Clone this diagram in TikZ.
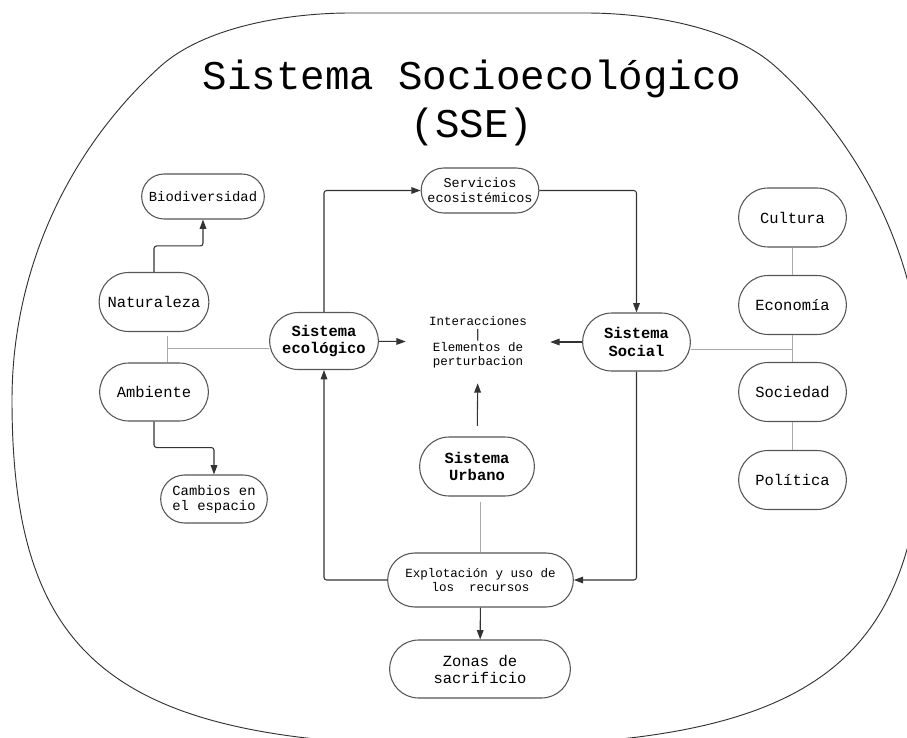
\documentclass[tikz,border=0pt]{standalone}
\usepackage{fontspec}
\setmonofont{Liberation Mono}
\usetikzlibrary{arrows.meta, positioning, shapes.misc, calc}
\definecolor{linegray}{HTML}{333333}
\definecolor{edgegray}{HTML}{555555}
\definecolor{softgray}{HTML}{A8A8A8}

\begin{document}
\begin{tikzpicture}[
    x=0.75pt, y=-0.75pt,
    pill/.style={rounded rectangle, draw=edgegray, line width=0.8pt, align=center, inner xsep=2pt,
                 minimum width=85.5pt, minimum height=43.5pt, font=\ttfamily\fontsize{11.6}{12.8}\selectfont},
    midtext/.style={font=\ttfamily\fontsize{10.4}{11.2}\selectfont},
    finetext/.style={font=\ttfamily\fontsize{9.4}{10.1}\selectfont},
    arrow/.style={-{Triangle[length=7pt,width=5pt]}, line width=0.8pt, linegray, rounded corners=2pt},
    link/.style={softgray, line width=0.6pt},
]
    \useasboundingbox (0,0) rectangle (907,738);

    % Outer frame
    \begin{scope}
        \clip (0,0) rectangle (907,738);
        \draw[linegray, line width=0.7pt]
            (12,400) arc[start angle=180, end angle=227.5, x radius=456, y radius=452]
            .. controls (205,26) and (290,13) .. (350,13) -- (586,13)
            .. controls (646,13) and (731,26) .. (776,67)
            arc[start angle=312.5, end angle=360, x radius=456, y radius=452]
            .. controls (924,665) and (817,746) .. (468,746)
            .. controls (119,746) and (12,665) .. cycle;
    \end{scope}

    % Title
    \node[font=\ttfamily\fontsize{30.6}{36}\selectfont, align=center] (title) at (472,103) {Sistema Socioecológico\\(SSE)};

    % Left column
    \node[pill, midtext, minimum width=96pt, minimum height=33.75pt] (bio) at (203,196.5) {Biodiversidad};
    \node[pill, minimum width=86.25pt, minimum height=44.25pt] (nat) at (154,302) {Naturaleza};
    \node[pill] (amb) at (154,392) {Ambiente};
    \node[pill, midtext, minimum width=84pt, minimum height=36pt] (cam) at (214,499) {Cambios en\\el espacio};

    % Centre
    \node[pill, font=\ttfamily\bfseries\fontsize{11.6}{12.8}\selectfont, minimum height=42.75pt] (eco) at (324,341) {Sistema\\ecológico};
    \node[pill, font=\ttfamily\fontsize{10.1}{11}\selectfont, minimum height=33.75pt] (serv) at (480,190.5) {Servicios\\ecosistémicos};
    \node[finetext, align=center, minimum width=108pt, minimum height=61.5pt] (inter) at (478,342) {Interacciones\\|\\Elementos de\\perturbacion};
    \node[pill, font=\ttfamily\bfseries\fontsize{11.6}{12.8}\selectfont, minimum width=84.75pt] (soc) at (636.5,342) {Sistema\\Social};
    \node[pill, font=\ttfamily\bfseries\fontsize{11.6}{12.8}\selectfont, minimum width=90pt, minimum height=44.25pt] (urb) at (477,466.5) {Sistema\\Urbano};
    \node[pill, finetext, minimum width=143.25pt, minimum height=40.5pt] (expl) at (480.5,580) {Explotación y uso de\\los~~recursos};
    \node[pill, minimum width=139.5pt] (zon) at (480,669) {Zonas de\\sacrificio};

    % Right column
    \node[pill, minimum width=84.75pt, minimum height=44.25pt] (cult) at (792.5,217.5) {Cultura};
    \node[pill, minimum width=84.75pt, minimum height=44.25pt] (econ) at (792.5,305) {Economía};
    \node[pill, minimum width=84.75pt, minimum height=44.25pt] (socd) at (792.5,392) {Sociedad};
    \node[pill, minimum width=84.75pt, minimum height=44.25pt] (pol) at (792.5,480) {Política};

    % Arrows
    \draw[arrow] (nat.north) -- ++(0,-26) -| (bio.south);
    \draw[arrow] (amb.south) -- ++(0,26) -| (cam.north);
    \draw[arrow] (eco.north) |- (serv.west);
    \draw[arrow] (serv.east) -| (soc.north);
    \draw[arrow] (eco) -- (inter);
    \draw[arrow] (soc) -- (inter);
    \draw[arrow, shorten <=8pt] (urb) -- (inter);
    \draw[arrow] (expl.west) -| (eco.south);
    \draw[arrow] (soc.south) |- (expl.east);
    \draw[arrow] (expl) -- (zon);

    % Plain links
    \coordinate (jn) at (167,348);
    \draw[link, shorten <=3pt] (jn |- nat.south) -- (jn |- amb.north);
    \draw[link] (jn) -- (jn -| eco.west);
    \coordinate (js) at (792.5,349);
    \draw[link] (js -| soc.east) -- (js);
    \draw[link] (cult) -- (econ);
    \draw[link] (econ) -- (socd);
    \draw[link] (socd) -- (pol);
    \draw[link, shorten <=4pt] (expl.north |- urb.south) -- (expl.north);

\end{tikzpicture}
\end{document}
